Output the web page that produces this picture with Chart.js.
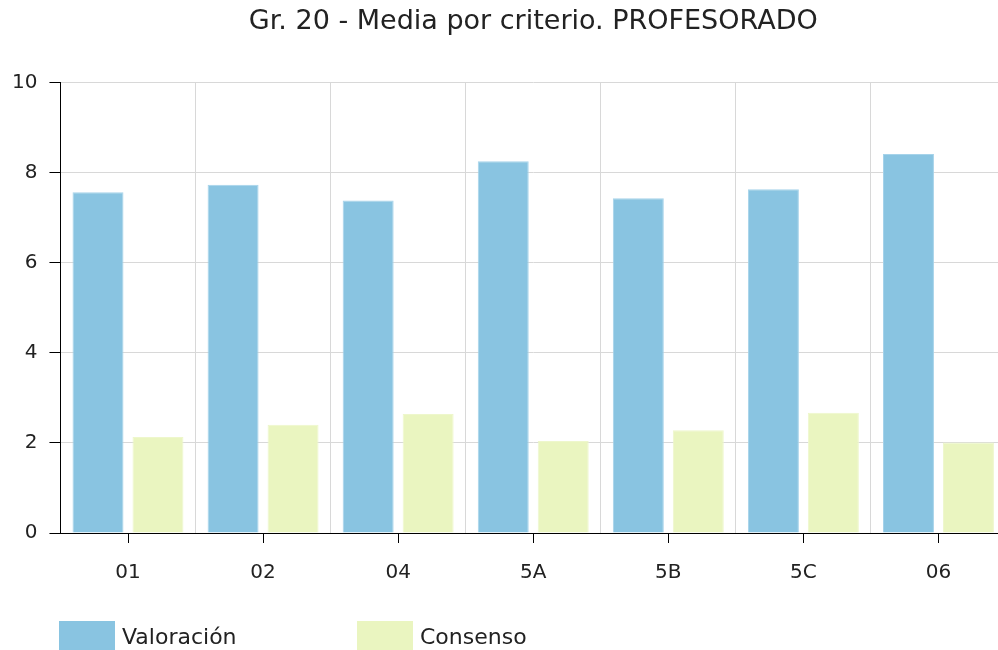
<!DOCTYPE html>
<html>
<head>
<meta charset="utf-8">
<script src="https://cdn.jsdelivr.net/npm/chart.js@4"></script>
<style>
  html, body { margin: 0; padding: 0; background: #fff; overflow: hidden; }
  #wrap { width: 998px; height: 650px; overflow: hidden; position: relative; }
  #box { width: 1064px; height: 650px; position: absolute; left: 0; top: 0; }
</style>
</head>
<body>
<div id="wrap"><div id="box"><canvas id="chart"></canvas></div></div>
<script>
const categories = ["01", "02", "04", "5A", "5B", "5C", "06"];
const valoracion = [7.56, 7.73, 7.38, 8.25, 7.43, 7.63, 8.41];
const consenso = [2.13, 2.40, 2.64, 2.04, 2.28, 2.67, 2.01];
const yTicks = [0, 2, 4, 6, 8, 10];

Chart.defaults.font.family = "'DejaVu Sans', Verdana, sans-serif";
Chart.defaults.color = "#222";

// marcas del eje X en el centro de cada categoría
const centerTicks = {
  id: "centerTicks",
  afterDraw(chart) {
    const ctx = chart.ctx;
    const x = chart.scales.x;
    const bottom = chart.chartArea.bottom;
    ctx.save();
    ctx.strokeStyle = "#000";
    ctx.lineWidth = 1;
    categories.forEach((c, i) => {
      const px = Math.round(x.getPixelForValue(i)) + 0.5;
      ctx.beginPath();
      ctx.moveTo(px, bottom);
      ctx.lineTo(px, bottom + 10);
      ctx.stroke();
    });
    ctx.restore();
  }
};

// leyenda con separación fija entre elementos
const boxLegend = {
  id: "boxLegend",
  afterDraw(chart) {
    const ctx = chart.ctx;
    const top = chart.chartArea.bottom + 88;
    const starts = [59, 357];
    ctx.save();
    ctx.font = "22px 'DejaVu Sans', Verdana, sans-serif";
    ctx.textBaseline = "middle";
    chart.data.datasets.forEach((ds, i) => {
      const x0 = starts[i];
      ctx.fillStyle = ds.backgroundColor;
      ctx.fillRect(x0, top, 56, 32);
      ctx.fillStyle = "#222";
      ctx.fillText(ds.label, x0 + 63, top + 17);
    });
    ctx.restore();
  }
};

new Chart(document.getElementById("chart"), {
  type: "bar",
  data: {
    labels: categories,
    datasets: [
      {
        label: "Valoración",
        data: valoracion,
        backgroundColor: "#89C4E1",
        borderColor: "#A6D3EA",
        borderWidth: 1,
        barPercentage: 0.85,
        categoryPercentage: 0.888
      },
      {
        label: "Consenso",
        data: consenso,
        backgroundColor: "#EAF5C0",
        borderColor: "#EEF7CC",
        borderWidth: 1,
        barPercentage: 0.85,
        categoryPercentage: 0.888
      }
    ]
  },
  options: {
    responsive: true,
    maintainAspectRatio: false,
    animation: false,
    layout: { padding: { left: 0, right: 58, top: 0, bottom: 47 } },
    plugins: {
      legend: { display: false },
      tooltip: { enabled: false },
      title: {
        display: true,
        fullSize: false,
        text: "Gr. 20 - Media por criterio. PROFESORADO",
        color: "#222",
        font: { size: 27, weight: "normal" },
        padding: { top: 6, bottom: 44 }
      }
    },
    scales: {
      x: {
        grid: { color: "#d8d8d8", offset: true, tickLength: 10, tickColor: "rgba(0,0,0,0)" },
        border: { color: "#000", width: 1 },
        ticks: { font: { size: 20 }, padding: 18, color: "#222" }
      },
      y: {
        min: 0,
        max: 10,
        afterBuildTicks(scale) {
          scale.ticks = yTicks.map(v => ({ value: v }));
        },
        grid: { color: "#d8d8d8", tickLength: 11, tickColor: "#000" },
        border: { color: "#000", width: 1 },
        ticks: { font: { size: 20 }, padding: 12, color: "#222" }
      }
    }
  },
  plugins: [centerTicks, boxLegend]
});
</script>
</body>
</html>
